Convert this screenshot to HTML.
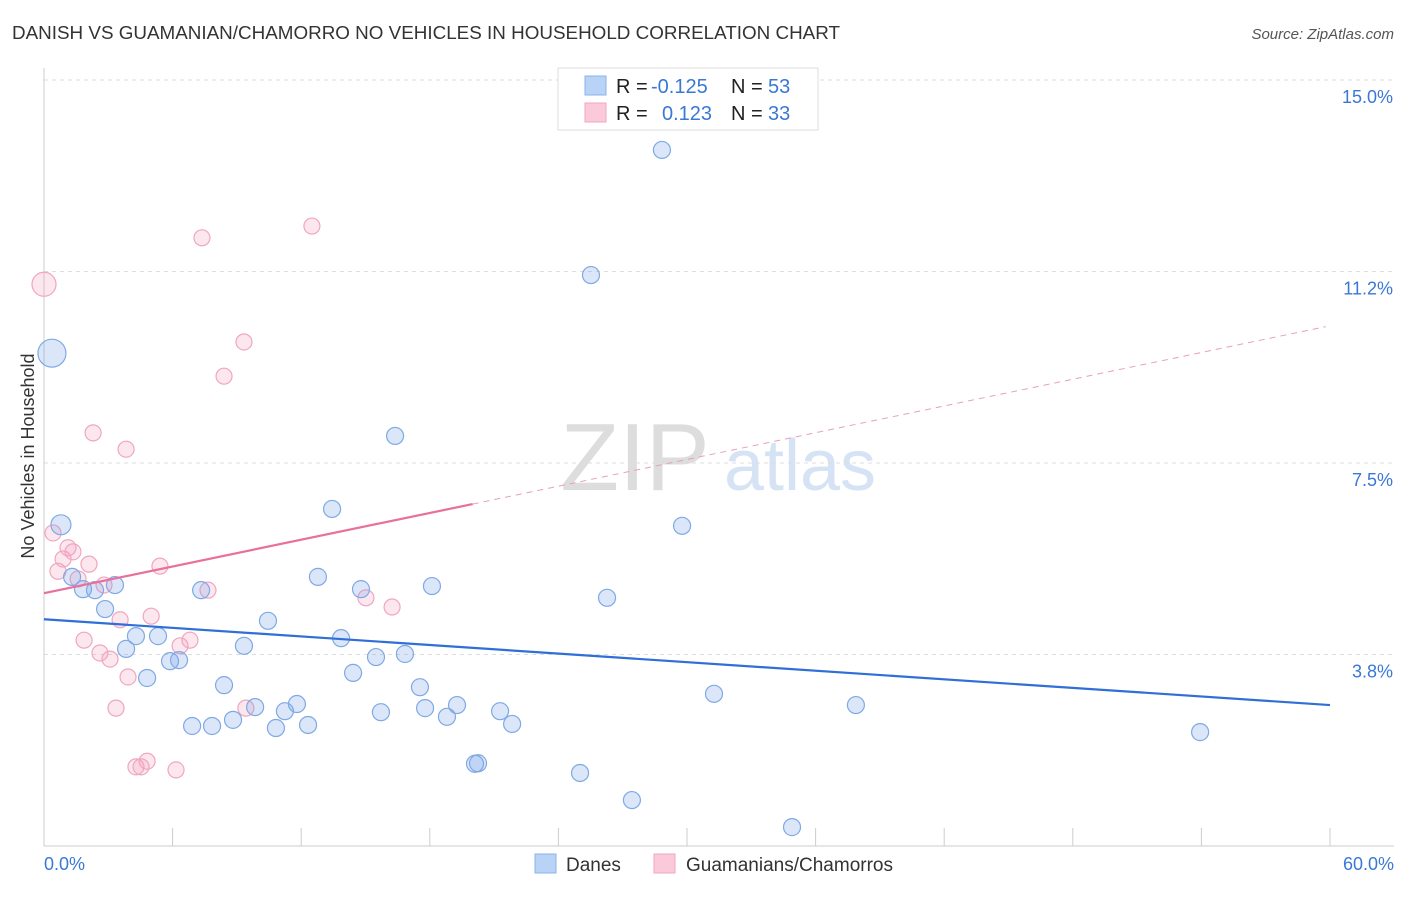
<!DOCTYPE html>
<html><head><meta charset="utf-8"><style>
body{margin:0;background:#fff;font-family:"Liberation Sans",sans-serif;}
svg text{font-family:"Liberation Sans",sans-serif;}
</style></head><body>
<svg id="chart" width="1406" height="892">
<text x="12" y="39" font-size="18" fill="#333" textLength="828" lengthAdjust="spacingAndGlyphs">DANISH VS GUAMANIAN/CHAMORRO NO VEHICLES IN HOUSEHOLD CORRELATION CHART</text>
<text x="1394" y="39" font-size="15" fill="#555" text-anchor="end" font-style="italic">Source: ZipAtlas.com</text>
<text x="635" y="490" font-size="96" fill="#ddd" text-anchor="middle" font-family="Liberation Serif">ZIP</text>
<text x="800" y="490" font-size="72" fill="#d5e3f5" text-anchor="middle">atlas</text>
<text transform="translate(34,456) rotate(-90)" font-size="18" fill="#333" text-anchor="middle">No Vehicles in Household</text>
<g id="grid"></g><g id="marks"></g>
<g>
<rect x="558" y="68" width="260" height="62" fill="#fff" stroke="#ddd"/>
<rect x="585" y="76" width="21" height="19" fill="#b8d3f5" stroke="#8ab3ea"/>
<rect x="585" y="103" width="21" height="19" fill="#fbcada" stroke="#f0a6bf"/>
<text y="93" font-size="20" fill="#222"><tspan x="616">R =</tspan><tspan x="651" fill="#3a78d6">-0.125</tspan><tspan x="731">N =</tspan><tspan x="768" fill="#3a78d6">53</tspan></text>
<text y="120" font-size="20" fill="#222"><tspan x="616">R =</tspan><tspan x="662" fill="#3a78d6">0.123</tspan><tspan x="731">N =</tspan><tspan x="768" fill="#3a78d6">33</tspan></text>
</g>
<g>
<rect x="535" y="854" width="21" height="19" fill="#b8d3f5" stroke="#8ab3ea"/>
<text x="566" y="871" font-size="19" fill="#333">Danes</text>
<rect x="654" y="854" width="21" height="19" fill="#fbcada" stroke="#f0a6bf"/>
<text x="686" y="871" font-size="19" fill="#333">Guamanians/Chamorros</text>
</g>
</svg>
<script>
const yTicks=[3.75,7.5,11.25,15];
const yTickLabels=["3.8%","7.5%","11.2%","15.0%"];
const xTickLabels=["0.0%","60.0%"];
const danesX=[0.37,0.79,1.31,1.82,2.38,3.31,2.85,4.29,3.83,5.32,4.81,5.88,6.30,7.33,6.91,7.84,8.40,8.82,9.33,9.85,10.45,10.82,11.24,11.80,12.32,12.78,13.44,13.86,14.42,14.79,15.49,15.72,16.38,16.84,17.54,17.78,18.10,18.80,19.27,20.11,20.25,21.28,21.84,25.01,25.52,26.27,27.43,28.83,29.77,31.26,34.90,37.88,53.94];
const danesY=[9.65,6.29,5.27,5.03,5.01,5.11,4.64,4.11,3.86,4.11,3.29,3.62,3.64,5.01,2.35,2.35,3.15,2.47,3.92,2.72,4.41,2.31,2.64,2.78,2.37,5.27,6.60,4.07,3.39,5.03,3.70,2.62,8.03,3.76,3.11,2.70,5.09,2.53,2.76,1.61,1.62,2.64,2.39,1.43,11.18,4.86,0.90,13.63,6.27,2.98,0.37,2.76,2.23];
const guamX=[0,0.42,0.65,0.89,1.12,1.35,1.59,2.10,2.29,1.87,2.61,2.80,3.08,3.36,3.55,3.83,3.92,4.29,4.53,4.81,5.00,5.41,6.16,6.35,6.81,7.37,7.65,8.40,9.33,9.42,12.50,15.02,16.24];
const guamY=[11.0,6.13,5.38,5.62,5.84,5.76,5.23,5.52,8.09,4.03,3.78,5.11,3.66,2.70,4.43,7.77,3.31,1.55,1.55,1.66,4.50,5.48,1.49,3.92,4.03,11.91,5.01,9.20,9.87,2.70,12.14,4.86,4.68];
const danesTrend=[4.44,2.76];
const guamTrend=[4.95,0.0873];
const sx=v=>44+v/60*1286, sy=v=>846-v/15*766;
const NS="http://www.w3.org/2000/svg";
function mk(p,t,a){const e=document.createElementNS(NS,t);for(const k in a)e.setAttribute(k,a[k]);p.appendChild(e);return e;}
const g=document.getElementById('grid'), m=document.getElementById('marks');
yTicks.forEach((t,i)=>{
 const l=mk(g,'line',{x1:44,x2:1394,y1:sy(t),y2:sy(t),stroke:'#ddd','stroke-dasharray':'4,4'});
 
 
 const tx=mk(g,'text',{x:1393,y:sy(t)+23,'font-size':18,fill:'#3a78d6','text-anchor':'end'});tx.textContent=yTickLabels[i];
 
 
});
const ax=mk(g,'line',{x1:44,x2:44,y1:68,y2:846,stroke:'#ccc'});


const bx=mk(g,'line',{x1:44,x2:1394,y1:846,y2:846,stroke:'#ccc'});


for(let i=0;i<=10;i++){const t=mk(g,'line',{x1:sx(i*6),x2:sx(i*6),y1:828,y2:846,stroke:'#ccc'});
 
 }
[[0,'start',44],[60,'end',1394]].forEach((d,i)=>{const t=mk(g,'text',{x:d[2],y:870,'font-size':18,fill:'#3a78d6','text-anchor':d[1]});t.textContent=xTickLabels[i];
 
 });
guamX.forEach((x,i)=>{const r=i==0?12:8;const c=mk(m,'circle',{cx:sx(x),cy:sy(guamY[i]),r:r,fill:'rgba(245,160,190,0.25)',stroke:'#f0a6bf','stroke-width':1.2});
 
 });
danesX.forEach((x,i)=>{const r=i==0?14:(i==1?10:8.5);const c=mk(m,'circle',{cx:sx(x),cy:sy(danesY[i]),r:r,fill:'rgba(110,160,230,0.25)',stroke:'#7fa9e4','stroke-width':1.2});
 
 });
const bl=mk(m,'line',{x1:sx(0),y1:sy(danesTrend[0]),x2:sx(60),y2:sy(danesTrend[1]),stroke:'#2f6fd6','stroke-width':2.2});


const pf=x=>guamTrend[0]+guamTrend[1]*x;
const pl=mk(m,'line',{x1:sx(0),y1:sy(pf(0)),x2:sx(20),y2:sy(pf(20)),stroke:'#e8709a','stroke-width':2.2});


const pd=mk(m,'line',{x1:sx(20),y1:sy(pf(20)),x2:sx(59.8),y2:sy(pf(59.8)),stroke:'#e8a0b8','stroke-width':1,'stroke-dasharray':'6,5'});


</script>
</body></html>
